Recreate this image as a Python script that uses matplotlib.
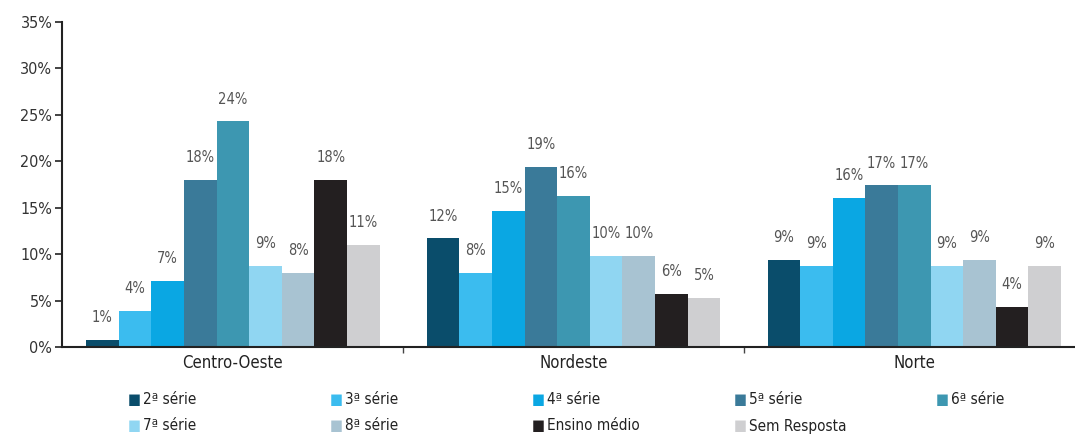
import matplotlib.pyplot as plt
import numpy as np

# dados
regioes = ['Centro-Oeste', 'Nordeste', 'Norte']
series = ['2ª série', '3ª série', '4ª série', '5ª série', '6ª série',
          '7ª série', '8ª série', 'Ensino médio', 'Sem Resposta']
centro_oeste = [0.8, 3.9, 7.1, 18.0, 24.3, 8.7, 8.0, 18.0, 11.0]
nordeste = [11.7, 8.0, 14.7, 19.4, 16.3, 9.8, 9.8, 5.7, 5.3]
norte = [9.4, 8.7, 16.1, 17.4, 17.4, 8.7, 9.4, 4.3, 8.7]
cores = ['#0a4d6b', '#3bbcef', '#0aa7e3', '#3a7a99', '#3d97b1',
         '#90d6f2', '#a8c3d2', '#231f20', '#cfcfd1']

plt.rcParams['font.family'] = ['Liberation Sans Narrow', 'DejaVu Sans']
plt.rcParams['font.stretch'] = 'condensed'

fig = plt.figure(figsize=(10.75, 4.41), dpi=100)
ax = fig.add_axes([0.0577, 0.213, 0.9423, 0.737])

valores = np.array([centro_oeste, nordeste, norte])
passo = 10.45
centros = np.arange(len(regioes)) * passo

for i, serie in enumerate(series):
    xs = centros + (i - 4)
    vals = valores[:, i]
    ax.bar(xs, vals, width=1.0, color=cores[i], label=serie)
    for x, v in zip(xs, vals):
        ax.text(x, v + 1.6, '%d%%' % round(v), ha='center', va='bottom',
                fontsize=10.5, color='#555555')

ax.set_ylim(0, 35)
ax.set_xlim(-5.24, centros[-1] + 4.93)
ax.set_yticks(range(0, 36, 5))
ax.set_yticklabels(['%d%%' % t for t in range(0, 36, 5)], fontsize=11.5, color='#333333')
ax.set_xticks(centros)
ax.set_xticklabels(regioes, fontsize=12, color='#222222')
ax.tick_params(axis='x', length=0, pad=5)
ax.set_xticks((centros[:-1] + centros[1:]) / 2, minor=True)
ax.tick_params(axis='x', which='minor', length=4, width=1, color='#444444')
ax.tick_params(axis='y', length=5, width=1.2, color='#222222', pad=2)

for s in ['top', 'right']:
    ax.spines[s].set_visible(False)
ax.spines['left'].set_linewidth(1.5)
ax.spines['bottom'].set_linewidth(1.5)
ax.spines['left'].set_color('#222222')
ax.spines['bottom'].set_color('#222222')

# legenda manual em duas linhas
for i, serie in enumerate(series):
    col = i % 5
    lin = i // 5
    x = 128 / 1075 + col * 202 / 1075
    y = 1 - (400 + lin * 26) / 441
    fig.text(x, y, '■', fontsize=11, color=cores[i], ha='left', va='center',
             family=['DejaVu Sans'])
    fig.text(x + 15 / 1075, y, serie, fontsize=11, color='#222222',
             ha='left', va='center')

fig.savefig('out.png', dpi=100)
